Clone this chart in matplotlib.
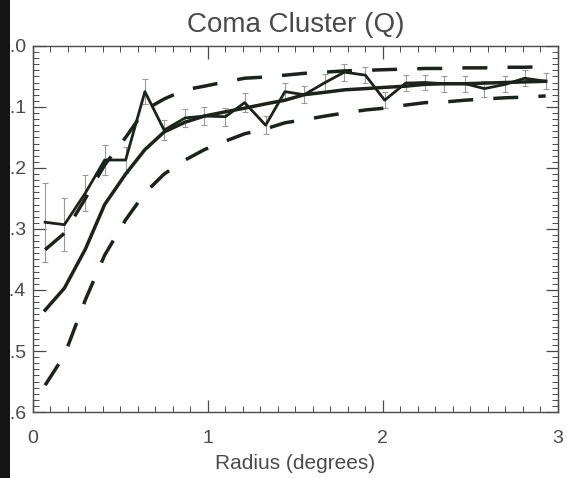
import numpy as np
import matplotlib
matplotlib.use("Agg")
import matplotlib.pyplot as plt
from matplotlib.patches import Rectangle
from matplotlib.ticker import MultipleLocator

plt.rcParams['font.family'] = ['Liberation Sans', 'DejaVu Sans']

# radial bins (degrees)
radius = [0.07, 0.18, 0.30, 0.41, 0.53, 0.64, 0.75, 0.87, 0.98, 1.10, 1.21, 1.33, 1.44,
          1.55, 1.67, 1.78, 1.90, 2.01, 2.13, 2.24, 2.35, 2.47, 2.58, 2.70, 2.81, 2.93]

# measured profile with errors
q_obs = [0.289, 0.293, 0.241, 0.187, 0.187, 0.075, 0.138, 0.118, 0.115, 0.116, 0.093, 0.130, 0.075,
         0.080, 0.060, 0.043, 0.048, 0.089, 0.061, 0.060, 0.062, 0.062, 0.070, 0.063, 0.053, 0.058]
q_err = [0.065, 0.043, 0.030, 0.025, 0.022, 0.020, 0.016, 0.015, 0.015, 0.015, 0.015, 0.015, 0.014,
         0.014, 0.014, 0.014, 0.013, 0.013, 0.013, 0.013, 0.013, 0.013, 0.013, 0.013, 0.013, 0.013]

# model and its envelope
q_model = [0.433, 0.397, 0.333, 0.260, 0.210, 0.170, 0.141, 0.125, 0.115, 0.108, 0.102, 0.095, 0.089,
           0.080, 0.076, 0.072, 0.070, 0.068, 0.066, 0.063, 0.062, 0.062, 0.061, 0.060, 0.059, 0.058]
q_upper = [0.334, 0.307, 0.250, 0.195, 0.150, 0.105, 0.087, 0.072, 0.066, 0.059, 0.053, 0.051, 0.048,
           0.045, 0.043, 0.041, 0.040, 0.039, 0.038, 0.037, 0.037, 0.036, 0.036, 0.035, 0.035, 0.034]
q_lower = [0.556, 0.507, 0.416, 0.343, 0.285, 0.241, 0.210, 0.187, 0.170, 0.156, 0.144, 0.136, 0.126,
           0.121, 0.115, 0.110, 0.105, 0.102, 0.097, 0.093, 0.092, 0.089, 0.087, 0.085, 0.084, 0.082]

ink = '#1c221c'
txt = '#4a4a4a'

fig = plt.figure(figsize=(5.67, 4.78), dpi=100)
ax = fig.add_axes([0.058, 0.138, 0.926, 0.766])

ax.errorbar(radius, q_obs, yerr=q_err, fmt='none', ecolor='#9a9a9a', elinewidth=0.8,
            capsize=2, capthick=0.8, zorder=2)
ax.plot(radius, q_obs, color=ink, lw=2.0, zorder=3)
ax.plot(radius, q_model, color=ink, lw=2.5, zorder=4)
ax.plot(radius, q_upper, color=ink, lw=2.5, dashes=(7.2, 5.8), zorder=4)
ax.plot(radius, q_lower, color=ink, lw=2.5, dashes=(7.2, 5.8), zorder=4)

ax.set_xlim(0, 3)
ax.set_ylim(0.6, 0.0)
ax.xaxis.set_major_locator(MultipleLocator(1))
ax.xaxis.set_minor_locator(MultipleLocator(0.1))
ax.yaxis.set_major_locator(MultipleLocator(0.1))
ax.yaxis.set_minor_locator(MultipleLocator(0.01))
ax.set_yticklabels([f'{v:.1f}' for v in ax.get_yticks()])
ax.tick_params(which='both', direction='in', top=True, right=True, colors=txt,
               labelsize=14, labelcolor=txt)
ax.tick_params(which='major', length=9, width=0.9)
ax.tick_params(which='minor', length=4, width=0.7)
ax.tick_params(axis='x', pad=13)
ax.tick_params(axis='y', pad=5)
for s in ax.spines.values():
    s.set_color(txt)
    s.set_linewidth(1.0)

ax.set_title('Coma Cluster (Q)', fontsize=20, color=txt, pad=10)
ax.set_xlabel('Radius (degrees)', fontsize=15, color=txt, labelpad=5)

# dark strip along the left edge
fig.add_artist(Rectangle((0, 0), 10 / 567, 1, transform=fig.transFigure,
                         facecolor='#141414', edgecolor='none', zorder=10))

fig.savefig('out.png', dpi=100)
